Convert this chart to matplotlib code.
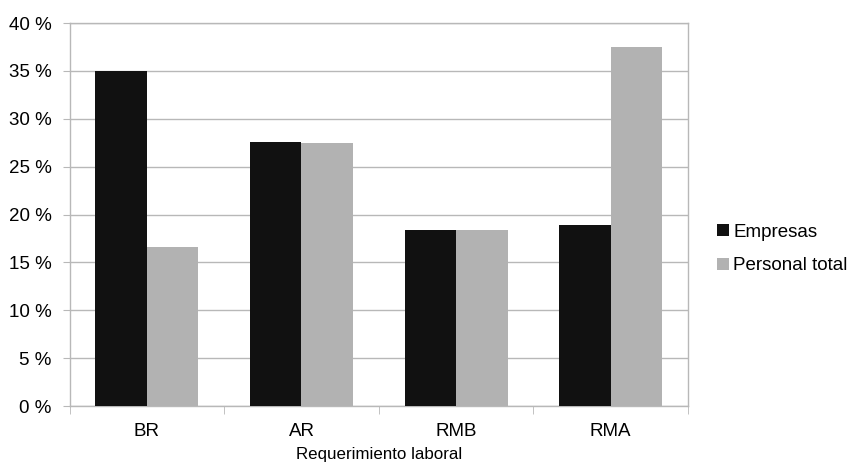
import matplotlib
matplotlib.use("Agg")
import matplotlib.pyplot as plt
import numpy as np
from matplotlib.ticker import FuncFormatter

plt.rcParams['font.family'] = ['Liberation Sans', 'DejaVu Sans']

categories = ["BR", "AR", "RMB", "RMA"]
empresas = [35.0, 27.6, 18.4, 18.9]
personal_total = [16.6, 27.5, 18.4, 37.5]
series_names = ["Empresas", "Personal total"]
colors = ["#111111", "#b2b2b2"]

fig = plt.figure(figsize=(8.49, 4.62), dpi=100)
ax = fig.add_axes([0.0819, 0.1212, 0.7285, 0.829])

x = np.arange(len(categories))
w = 1/3
ax.bar(x - w/2, empresas, width=w, color=colors[0], label=series_names[0], zorder=3)
ax.bar(x + w/2, personal_total, width=w, color=colors[1], label=series_names[1], zorder=3)

ax.set_xlim(-0.5, len(categories) - 0.5)
ax.set_ylim(0, 40)
ax.set_yticks(np.arange(0, 41, 5))
ax.yaxis.set_major_formatter(FuncFormatter(lambda v, p: f"{int(v)} %"))
ax.grid(axis='y', color='#b8b8b8', linewidth=1, zorder=0)

ax.set_xticks(x)
ax.set_xticklabels(categories)
ax.set_xticks(np.arange(-0.5, len(categories)), minor=True)
ax.tick_params(axis='x', which='major', length=0, labelsize=13.5, pad=12)
ax.tick_params(axis='x', which='minor', length=6, color='#b8b8b8')
ax.tick_params(axis='y', length=5, color='#b8b8b8', labelsize=13.5, pad=8)

for s in ax.spines.values():
    s.set_color('#b8b8b8')
    s.set_linewidth(1)

ax.set_xlabel("Requerimiento laboral", fontsize=12.2, labelpad=5)

leg = ax.legend(loc='center left', bbox_to_anchor=(1.035, 0.41), frameon=False,
                fontsize=13.5, handlelength=0.65, handleheight=0.65, handletextpad=0.2,
                labelspacing=0.9, borderaxespad=0.0)

fig.savefig("out.png", dpi=100)
